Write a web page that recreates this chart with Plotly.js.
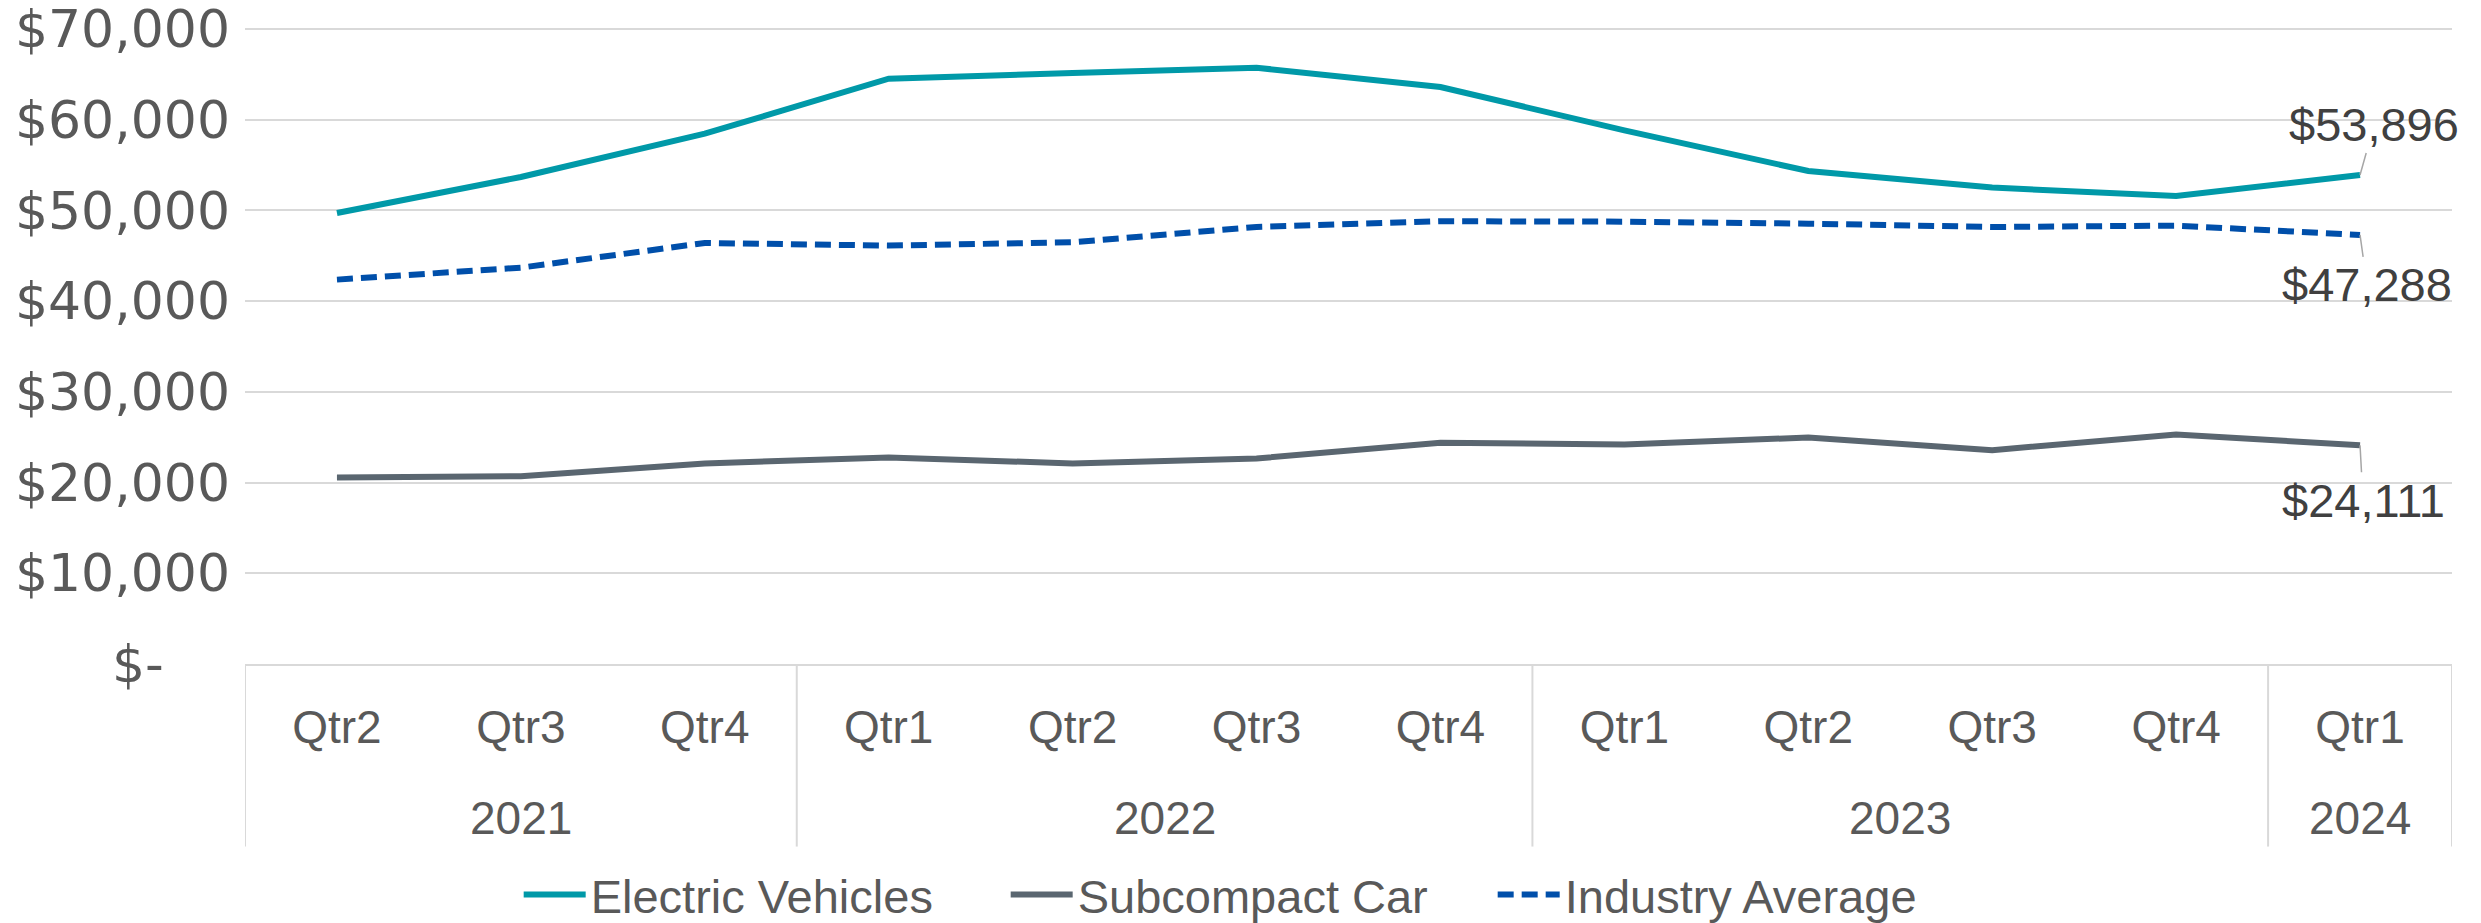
<!DOCTYPE html>
<html>
<head>
<meta charset="utf-8">
<script src="https://cdn.plot.ly/plotly-3.0.1.min.js"></script>
<style>
  html, body { margin: 0; padding: 0; background: #ffffff; }
  #chart { width: 2481px; height: 923px; }
</style>
</head>
<body>
<div id="chart"></div>
<script>
// ---- data ----
const years    = ["2021","2021","2021","2022","2022","2022","2022","2023","2023","2023","2023","2024"];
const quarters = ["Qtr2","Qtr3","Qtr4","Qtr1","Qtr2","Qtr3","Qtr4","Qtr1","Qtr2","Qtr3","Qtr4","Qtr1"];
const electricVehicles = [49700, 53670, 58440, 64500, 65120, 65710, 63580, 58810, 54330, 52500, 51580, 53896];
const subcompactCar    = [20560, 20700, 22100, 22760, 22100, 22650, 24380, 24190, 24960, 23570, 25290, 24111];
const industryAverage  = [42360, 43680, 46400, 46110, 46480, 48160, 48790, 48750, 48530, 48160, 48310, 47288];
const seriesNames = ["Electric Vehicles", "Subcompact Car", "Industry Average"];
const yTickValues = [0, 10000, 20000, 30000, 40000, 50000, 60000, 70000];
const yTickLabels = ["$-\u2007\u2007", "$10,000", "$20,000", "$30,000", "$40,000", "$50,000", "$60,000", "$70,000"];

// ---- styles ----
const colors = { ev: "#0099A8", sub: "#5A6670", ind: "#004FAA" };
const narrowFont = "Liberation Sans, Arial, sans-serif";
const tickFont = "DejaVu Sans, Verdana, sans-serif";
const lineGray = "#D9D9D9";

const xIdx = quarters.map((q, i) => i);

const traces = [
  { type: "scatter", mode: "lines", name: seriesNames[0], x: xIdx, y: electricVehicles,
    line: { color: colors.ev, width: 6 } },
  { type: "scatter", mode: "lines", name: seriesNames[1], x: xIdx, y: subcompactCar,
    line: { color: colors.sub, width: 6 } },
  { type: "scatter", mode: "lines", name: seriesNames[2], x: xIdx, y: industryAverage,
    line: { color: colors.ind, width: 6, dash: "16px,8px" } }
];

// year groups from the years array
const groups = [];
years.forEach((y, i) => {
  if (groups.length && groups[groups.length - 1].year === y) groups[groups.length - 1].end = i;
  else groups.push({ year: y, start: i, end: i });
});

const dividerBottom = -0.2866;   // paper units below the plot
const shapes = [];
const bounds = [groups[0].start - 0.5].concat(groups.map(g => g.end + 0.5));
bounds.forEach(b => shapes.push({
  type: "line", xref: "x", yref: "paper", x0: b, x1: b, y0: 0, y1: dividerBottom,
  line: { color: lineGray, width: 2 }
}));

const fmt = v => "$" + v.toLocaleString("en-US");
const last = quarters.length - 1;

function label(series, ax, ay) {
  return {
    x: last, y: series[last], xref: "x", yref: "y",
    text: fmt(series[last]),
    showarrow: true, arrowhead: 0, arrowwidth: 1.5, arrowcolor: "#A6A6A6",
    ax: ax, ay: ay, standoff: 0, startstandoff: 0,
    font: { family: narrowFont, size: 47, color: "#404040" }
  };
}

const annotations = [
  label(electricVehicles, 14, -50),
  label(industryAverage, 7, 50),
  label(subcompactCar, 3, 55)
].concat(groups.map(g => ({
  x: (g.start + g.end) / 2, xref: "x", y: -0.2423, yref: "paper",
  yanchor: "middle", xanchor: "center", showarrow: false,
  text: g.year,
  font: { family: narrowFont, size: 46, color: "#595959" }
})));

const layout = {
  width: 2481, height: 923,
  paper_bgcolor: "#ffffff", plot_bgcolor: "#ffffff",
  margin: { l: 245, r: 29, t: 27, b: 259 },
  showlegend: true,
  legend: {
    orientation: "h", xref: "container", yref: "container",
    x: 0.5035, xanchor: "center", y: 0.0303, yanchor: "middle",
    font: { family: narrowFont, size: 47, color: "#595959" },
    entrywidth: 410, entrywidthmode: "pixels",
    itemwidth: 62
  },
  xaxis: {
    range: [-0.5, last + 0.5],
    tickmode: "array", tickvals: xIdx, ticktext: quarters,
    showline: true, linecolor: lineGray, linewidth: 2,
    showgrid: false, zeroline: false, ticks: "",
    ticklabelstandoff: 22,
    tickfont: { family: narrowFont, size: 46, color: "#595959" }
  },
  yaxis: {
    range: [0, 70200],
    tickmode: "array", tickvals: yTickValues, ticktext: yTickLabels,
    showgrid: true, gridcolor: lineGray, gridwidth: 2,
    zeroline: false, showline: false, ticks: "",
    ticklabelstandoff: 14, ticklabeloverflow: "allow",
    tickfont: { family: tickFont, size: 52, color: "#595959" }
  },
  shapes: shapes,
  annotations: annotations
};

Plotly.newPlot("chart", traces, layout, { displayModeBar: false, staticPlot: true });
</script>
</body>
</html>
